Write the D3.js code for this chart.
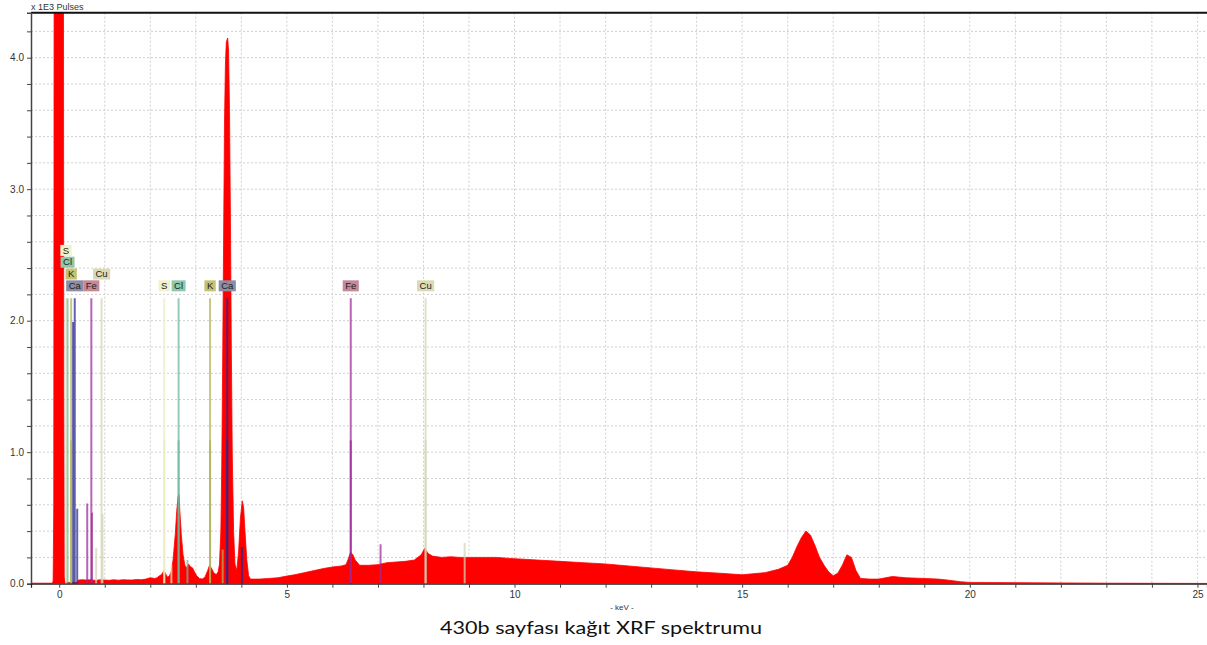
<!DOCTYPE html>
<html>
<head>
<meta charset="utf-8">
<script src="https://cdn.jsdelivr.net/npm/d3@7"></script>
<style>
  html, body { margin: 0; padding: 0; background: #ffffff; }
  svg { display: block; }
</style>
</head>
<body>
<svg id="chart" width="1207" height="645"></svg>
<script>
// ---------------- DATA ----------------
// Spectrum (energy in keV, counts in x1E3 pulses)
const specKeV = [-0.62,-0.15,-0.135,-0.13,-0.12,-0.11,0.09,0.10,0.11,0.13,0.40,0.42,0.5,0.6,0.7,0.8,0.9,1.0,1.1,1.2,1.3,1.4,1.5,1.6,1.7,1.8,1.9,2.0,2.1,2.15,2.2,2.25,2.3,2.33,2.38,2.42,2.46,2.5,2.55,2.58,2.61,2.63,2.65,2.68,2.72,2.76,2.8,2.84,2.88,2.93,2.97,3.02,3.08,3.14,3.2,3.26,3.3,3.34,3.4,3.45,3.49,3.52,3.55,3.57,3.59,3.61,3.63,3.65,3.67,3.70,3.72,3.74,3.76,3.78,3.80,3.83,3.86,3.9,3.94,3.98,4.02,4.05,4.08,4.12,4.16,4.2,4.4,4.6,4.8,5.0,5.2,5.4,5.6,5.8,6.0,6.2,6.3,6.35,6.4,6.45,6.5,6.6,6.8,7.0,7.2,7.4,7.6,7.8,7.95,8.03,8.1,8.2,8.4,8.6,8.8,9.0,9.3,9.6,10.0,10.5,11.0,11.5,12.0,12.5,13.0,13.5,14.0,14.5,15.0,15.5,15.8,16.0,16.1,16.2,16.3,16.4,16.5,16.6,16.7,16.8,16.9,17.0,17.1,17.2,17.3,17.4,17.5,17.6,17.8,18.0,18.3,18.6,19.0,19.3,19.5,19.8,20.0,21.0,22.0,23.0,24.0,25.21];
const specCounts = [0.004,0.004,0.02,0.17,0.6,6.0,6.0,1.5,0.05,0.01,0.01,0.028,0.03,0.028,0.03,0.025,0.03,0.028,0.026,0.03,0.027,0.03,0.029,0.028,0.032,0.03,0.035,0.045,0.04,0.045,0.06,0.07,0.1,0.08,0.05,0.06,0.09,0.18,0.38,0.55,0.66,0.68,0.55,0.38,0.22,0.14,0.12,0.15,0.13,0.12,0.09,0.06,0.04,0.035,0.05,0.1,0.14,0.12,0.08,0.07,0.09,0.15,0.4,0.9,1.7,2.6,3.5,3.95,4.12,4.15,4.05,3.6,2.8,1.8,1.0,0.4,0.15,0.1,0.25,0.5,0.63,0.58,0.4,0.18,0.06,0.035,0.035,0.04,0.045,0.058,0.07,0.085,0.1,0.115,0.127,0.135,0.145,0.19,0.24,0.22,0.18,0.14,0.14,0.145,0.16,0.165,0.17,0.18,0.22,0.27,0.23,0.21,0.2,0.205,0.2,0.2,0.2,0.2,0.19,0.18,0.17,0.16,0.15,0.135,0.12,0.105,0.09,0.08,0.068,0.084,0.11,0.14,0.2,0.28,0.35,0.4,0.37,0.29,0.2,0.14,0.09,0.06,0.08,0.14,0.22,0.2,0.1,0.04,0.035,0.035,0.055,0.045,0.04,0.035,0.028,0.015,0.01,0.008,0.006,0.004,0.003,0.002];

// Element markers
const elements   = ["S", "Cl", "K", "Ca", "Fe", "Cu"];
const kaKeV      = [2.307, 2.622, 3.313, 3.691, 6.403, 8.047];
const kbKeV      = [2.464, 2.816, 3.590, 4.013, 7.058, 8.905];
const kbHeight   = [0.14, 0.18, 0.26, 0.28, 0.30, 0.31];
const laKeV      = [0.149, 0.183, 0.262, 0.341, 0.705, 0.930];
const markerHeight = 2.17;
const ka2Height    = 1.09;
// extra L-family lines
const lExtraElem   = ["Ca", "Ca", "Fe", "Fe", "Cu", "Cu", "K"];
const lExtraKeV    = [0.305, 0.395, 0.615, 0.718, 0.811, 0.950, 0.262];
const lExtraHeight = [1.99, 0.57, 0.61, 0.54, 0.27, 0.53, 1.09];
// order in which the L labels are stacked
const lLabelOrder = ["Ca", "Fe", "K", "Cu", "Cl", "S"];

// Axis ticks
const xTickLabels = [0, 5, 10, 15, 20, 25];
const yTickLabels = [0, 1, 2, 3, 4];

const yAxisTitle = "x 1E3 Pulses";
const xAxisTitle = "- keV -";
const chartTitle = "430b sayfası kağıt XRF spektrumu";

// ---------------- STYLE ----------------
const labelColors = {S:"#f2f2c8", Cl:"#8fc8a8", K:"#c2c270", Ca:"#8c8ca2", Fe:"#c48898", Cu:"#dadab4"};
const lineColors  = {S:"#ececbe", Cl:"#6cb89a", K:"#b2b256", Ca:"#262690", Fe:"#9c2898", Cu:"#d4d4b6"};

// ---------------- DRAW ----------------
const svg = d3.select("#chart");
const pLeft = 31, pRight = 1207, pTop = 12.7, pBottom = 583.7;

const x = d3.scaleLinear().domain([-0.62, 25.21]).range([pLeft, pRight]);
const y = d3.scaleLinear().domain([0, 4.342]).range([pBottom, pTop]);

svg.append("defs").append("clipPath").attr("id", "plotclip")
  .append("rect").attr("x", pLeft).attr("y", pTop).attr("width", pRight - pLeft).attr("height", pBottom - pTop);

// grid
const grid = svg.append("g").attr("class", "grid");
grid.selectAll("line.v").data(d3.range(0, 26, 1)).join("line")
  .attr("x1", d => x(d)).attr("x2", d => x(d))
  .attr("y1", pTop).attr("y2", pBottom)
  .attr("stroke", "#cfcfcf").attr("stroke-width", 1).attr("stroke-dasharray", "2,2");
grid.selectAll("line.h").data(d3.range(1, 22, 1).map(i => i * 0.2)).join("line")
  .attr("x1", pLeft).attr("x2", pRight)
  .attr("y1", d => y(d)).attr("y2", d => y(d))
  .attr("stroke", "#cfcfcf").attr("stroke-width", 1).attr("stroke-dasharray", "2,2");

// spectrum
const spec = specKeV.map((k, i) => ({k, c: specCounts[i]}));
const area = d3.area().x(d => x(d.k)).y0(y(0)).y1(d => y(d.c));
svg.append("path").datum(spec)
  .attr("clip-path", "url(#plotclip)")
  .attr("d", area).attr("fill", "#ff0000").attr("stroke", "#ff0000").attr("stroke-width", 0.8);

// element lines
const lines = [];
elements.forEach((el, i) => {
  lines.push({el, k: kaKeV[i], h: markerHeight});
  lines.push({el, k: kaKeV[i], h: ka2Height});
  lines.push({el, k: kbKeV[i], h: kbHeight[i]});
  lines.push({el, k: laKeV[i], h: markerHeight});
});
lExtraElem.forEach((el, i) => lines.push({el, k: lExtraKeV[i], h: lExtraHeight[i]}));

svg.append("g").selectAll("line").data(lines).join("line")
  .attr("x1", d => x(d.k)).attr("x2", d => x(d.k))
  .attr("y1", y(0)).attr("y2", d => y(d.h))
  .attr("stroke", d => lineColors[d.el]).attr("stroke-width", 2).attr("stroke-opacity", 0.72);

// element labels
const labelG = svg.append("g").attr("font-family", "Liberation Sans, Arial, sans-serif").attr("font-size", 9.5);
const rowStep = 11.8;
const baseBottom = y(markerHeight) - 7;
const placed = [];
function placeLabel(el, k) {
  const cx = x(k);
  const g = labelG.append("g");
  const t = g.append("text").text(el).attr("fill", "#222").attr("text-anchor", "middle");
  const w = t.node().getComputedTextLength() + 5;
  const x0 = cx - w / 2, x1 = cx + w / 2;
  let row = 0;
  while (placed.some(p => p.row === row && x0 < p.x1 - 0.5 && x1 > p.x0 + 0.5)) row++;
  placed.push({row, x0, x1});
  const yb = baseBottom - row * rowStep;
  g.insert("rect", "text").attr("x", x0).attr("y", yb - 11).attr("width", w).attr("height", 11)
    .attr("fill", labelColors[el]);
  t.attr("x", cx).attr("y", yb - 2.3);
}
elements.forEach((el, i) => placeLabel(el, kaKeV[i]));
lLabelOrder.forEach(el => placeLabel(el, laKeV[elements.indexOf(el)]));

// axes
const axisFont = "Liberation Sans, Arial, sans-serif";
svg.append("line").attr("x1", pLeft).attr("x2", pRight).attr("y1", pTop).attr("y2", pTop)
  .attr("stroke", "#111").attr("stroke-width", 2);

const yAxis = d3.axisLeft(y).tickValues(d3.range(0, 22, 1).map(i => i * 0.2))
  .tickSize(4).tickFormat(d => (yTickLabels.some(v => Math.abs(v - d) < 1e-6) ? d3.format(".1f")(d) : ""));
const yg = svg.append("g").attr("transform", `translate(${pLeft},0)`).call(yAxis);
yg.select(".domain").attr("stroke", "#444").attr("stroke-width", 1.5);
yg.selectAll(".tick line").attr("stroke", "#444");
yg.selectAll(".tick text").attr("font-family", axisFont).attr("font-size", 10).attr("fill", "#333").attr("x", -7);

const xAxis = d3.axisBottom(x).tickValues(d3.range(0, 26, 1)).tickSize(4)
  .tickFormat(d => (xTickLabels.includes(d) ? String(d) : ""));
const xg = svg.append("g").attr("transform", `translate(0,${pBottom})`).call(xAxis);
xg.select(".domain").attr("stroke", "#222").attr("stroke-width", 1.2);
xg.selectAll(".tick line").attr("stroke", "#444");
xg.selectAll(".tick text").attr("font-family", axisFont).attr("font-size", 10).attr("fill", "#333").attr("y", 7);

// titles
svg.append("text").attr("x", pLeft).attr("y", 10).text(yAxisTitle)
  .attr("font-family", axisFont).attr("font-size", 9).attr("fill", "#333");
svg.append("text").attr("x", 622).attr("y", 610).attr("text-anchor", "middle").text(xAxisTitle)
  .attr("font-family", axisFont).attr("font-size", 8).attr("fill", "#333");
svg.append("text").attr("x", 440).attr("y", 634).text(chartTitle)
  .attr("font-family", "Lato, Carlito, sans-serif").attr("font-size", 17).attr("fill", "#111")
  .attr("textLength", 322).attr("lengthAdjust", "spacingAndGlyphs");
</script>
</body>
</html>
